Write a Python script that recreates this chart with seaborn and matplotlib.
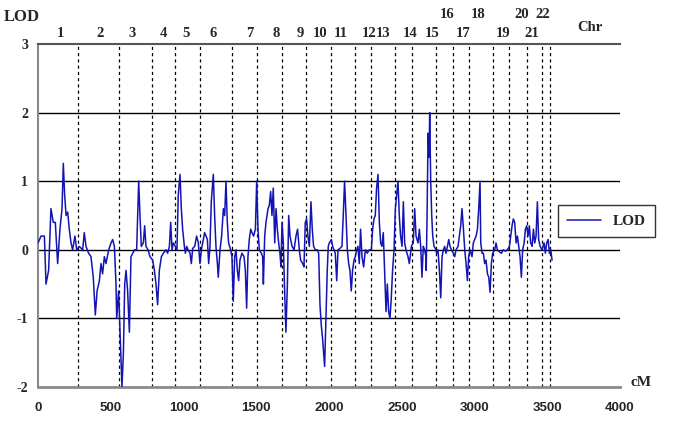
import matplotlib
matplotlib.use('Agg')
import matplotlib.pyplot as plt
import matplotlib.transforms as mtransforms
import seaborn as sns
import pandas as pd

# chromosome ends (cM), drawn as dotted separators
chr_ends = [275, 557, 784, 942, 1113, 1333, 1505, 1677, 1842, 2014, 2179,
            2289, 2454, 2570, 2735, 2852, 2962, 3127, 3237, 3361, 3464, 3519]
chr_labels = [str(i) for i in range(1, 23)]
chr_label_x = [151, 426, 646, 859, 1017, 1203, 1457, 1636, 1801, 1938, 2082,
               2275, 2371, 2557, 2708, 2811, 2921, 3024, 3196, 3326, 3395, 3471]
chr_upper = ['16', '18', '20', '22']

x_ticks = [0, 500, 1000, 1500, 2000, 2500, 3000, 3500, 4000]
y_ticks = [-2, -1, 0, 1, 2, 3]

# genome scan in four stretches
pos_a = [0, 21, 44, 55, 73, 89, 105, 119, 135, 151, 165, 174, 183, 193, 204, 215, 227,
         238, 254, 266, 284, 307, 318, 330, 348, 364, 380, 394, 406, 422, 433, 444, 456,
         467, 486, 502, 513, 525, 536, 541, 554, 564, 577, 587, 596, 605, 616, 628, 639,
         651, 664, 678, 692, 701, 710, 724, 733, 742, 756, 770, 788, 800, 811, 822, 834,
         848, 861, 880]
lod_a = [0.1, 0.2, 0.2, -0.5, -0.3, 0.6, 0.4, 0.4, -0.2, 0.3, 0.6, 1.26, 0.8, 0.5, 0.55,
         0.3, 0.1, 0.0, 0.2, 0.0, 0.05, 0.0, 0.25, 0.05, -0.05, -0.1, -0.4, -0.95, -0.6,
         -0.45, -0.2, -0.35, -0.1, -0.2, 0.0, 0.1, 0.15, 0.05, -0.5, -1.0, -0.6, -1.2,
         -2.0, -1.5, -0.5, -0.3, -0.6, -1.2, -0.1, -0.05, 0.0, 0.0, 1.0, 0.5, 0.05, 0.1,
         0.35, 0.05, 0.0, -0.1, -0.15, -0.3, -0.5, -0.8, -0.3, -0.1, -0.05, 0.0]

pos_b = [891, 903, 912, 921, 930, 944, 955, 964, 976, 985, 994, 1006, 1013, 1022, 1031,
         1045, 1054, 1063, 1077, 1090, 1102, 1113, 1123, 1132, 1145, 1155, 1164, 1173,
         1182, 1191, 1205, 1214, 1223, 1233, 1239, 1251, 1262, 1274, 1283, 1292, 1301,
         1310, 1324, 1333, 1342, 1352, 1361, 1370, 1379, 1388, 1402, 1416, 1425, 1434,
         1443, 1452, 1462, 1471, 1482, 1494, 1503, 1512, 1521, 1535, 1544, 1549, 1558,
         1567, 1581, 1590, 1599, 1608, 1617, 1627, 1636, 1645, 1654, 1663, 1670, 1677,
         1686, 1695, 1704, 1714, 1723, 1732, 1746, 1760, 1773]
lod_b = [-0.05, 0.05, 0.4, 0.0, 0.1, 0.05, 0.0, 0.8, 1.1, 0.6, 0.3, 0.05, -0.05, 0.05,
         0.0, -0.05, -0.2, 0.02, 0.05, 0.2, 0.1, -0.2, 0.0, 0.1, 0.25, 0.2, 0.15, -0.2,
         0.05, 0.7, 1.1, 0.5, 0.05, -0.2, -0.4, 0.0, 0.2, 0.6, 0.5, 1.0, 0.4, 0.1, 0.0,
         -0.1, -0.75, -0.1, 0.0, -0.3, -0.45, -0.15, -0.05, -0.1, -0.3, -0.85, -0.1, 0.15,
         0.3, 0.25, 0.2, 0.3, 1.0, 0.3, 0.0, -0.05, -0.1, -0.5, 0.2, 0.4, 0.6, 0.65, 0.85,
         0.5, 0.9, 0.1, 0.6, 0.3, 0.1, -0.05, -0.25, 0.4, 0.1, -0.6, -1.2, -0.5, 0.5, 0.2,
         0.05, 0.0, 0.2]

pos_c = [1784, 1796, 1805, 1819, 1828, 1837, 1846, 1855, 1865, 1876, 1885, 1894, 1906,
         1920, 1929, 1938, 1947, 1956, 1970, 1979, 1988, 1995, 2002, 2016, 2025, 2034,
         2043, 2053, 2062, 2075, 2089, 2098, 2107, 2117, 2126, 2135, 2144, 2153, 2162,
         2172, 2181, 2190, 2199, 2208, 2217, 2227, 2238, 2250, 2263, 2277, 2291, 2300,
         2309, 2318, 2327, 2337, 2346, 2355, 2364, 2373, 2382, 2392, 2401, 2410, 2419,
         2428, 2437, 2447, 2456, 2465, 2474, 2483, 2492, 2502, 2511, 2520, 2529, 2543,
         2552, 2566, 2579, 2589, 2598, 2612, 2621, 2630, 2639, 2648, 2657, 2666]
lod_c = [0.3, 0.0, -0.15, -0.2, -0.25, 0.4, 0.45, 0.2, 0.05, 0.7, 0.3, 0.05, 0.0, 0.0,
         -0.05, -0.8, -1.1, -1.3, -1.7, -1.0, -0.3, 0.05, 0.1, 0.15, 0.05, 0.0, -0.05,
         -0.45, 0.0, 0.02, 0.05, 0.5, 1.0, 0.5, 0.0, -0.2, -0.3, -0.6, -0.3, -0.15, -0.1,
         0.0, 0.05, -0.2, 0.3, -0.1, -0.25, 0.0, -0.05, 0.0, 0.0, 0.3, 0.45, 0.5, 0.9, 1.1,
         0.4, 0.1, 0.05, 0.25, -0.3, -0.9, -0.5, -0.9, -1.0, -0.7, -0.3, 0.0, 0.6, 0.8,
         1.0, 0.5, 0.2, 0.05, 0.7, 0.1, 0.0, -0.1, -0.2, 0.05, 0.1, 0.6, 0.2, 0.1, 0.3,
         0.05, -0.4, 0.05, 0.0, -0.1]

pos_d = [2668, 2674, 2681, 2688, 2692, 2699, 2706, 2713, 2722, 2731, 2740, 2749, 2759,
         2768, 2777, 2786, 2795, 2804, 2814, 2823, 2832, 2841, 2855, 2864, 2873, 2887,
         2896, 2905, 2914, 2924, 2933, 2942, 2951, 2960, 2969, 2983, 2992, 3001, 3011,
         3020, 3029, 3038, 3043, 3052, 3061, 3070, 3079, 3089, 3098, 3107, 3116, 3125,
         3139, 3148, 3157, 3171, 3185, 3198, 3212, 3226, 3240, 3249, 3258, 3267, 3276,
         3286, 3295, 3304, 3313, 3322, 3331, 3341, 3350, 3359, 3368, 3377, 3386, 3396,
         3405, 3414, 3423, 3432, 3441, 3451, 3464, 3478, 3487, 3496, 3506, 3515, 3524,
         3533]
lod_d = [-0.3, 0.5, 1.7, 1.35, 2.0, 1.0, 0.5, 0.2, 0.05, 0.02, -0.05, 0.0, -0.3, -0.7,
         -0.1, 0.0, 0.05, -0.05, 0.05, 0.15, 0.05, 0.0, -0.05, -0.1, 0.0, 0.05, 0.2, 0.35,
         0.6, 0.3, 0.0, -0.2, -0.45, -0.1, 0.0, -0.1, 0.1, 0.15, 0.2, 0.3, 0.6, 1.0, 0.1,
         -0.05, -0.05, -0.2, -0.15, -0.35, -0.4, -0.62, -0.2, -0.05, 0.0, 0.1, 0.0, -0.03,
         -0.05, 0.0, -0.02, 0.0, 0.05, 0.2, 0.35, 0.45, 0.4, 0.1, 0.2, 0.05, -0.1, -0.4,
         0.0, 0.1, 0.3, 0.35, 0.2, 0.35, 0.1, 0.05, 0.3, 0.1, 0.2, 0.7, 0.15, 0.05, 0.0,
         0.1, -0.05, 0.1, 0.15, -0.05, 0.0, -0.15]

df = pd.DataFrame({'cM': pos_a + pos_b + pos_c + pos_d,
                   'LOD': lod_a + lod_b + lod_c + lod_d})

sns.set_style('white')
plt.rcParams['font.family'] = ['Liberation Serif', 'DejaVu Serif']
plt.rcParams['axes.unicode_minus'] = False

W, H = 685, 430
fig = plt.figure(figsize=(W / 100, H / 100), dpi=100)
ax = fig.add_axes([38 / W, 1 - 387 / H, (620 - 38) / W, (387 - 44) / H])

# horizontal rules and chromosome separators
for y in [-1, 0, 1, 2]:
    ax.axhline(y, color='black', lw=1, zorder=1)
for x in chr_ends:
    ax.axvline(x, color='black', lw=0.9, ls=(0, (2.5, 2.5)), zorder=1)

sns.lineplot(data=df, x='cM', y='LOD', ax=ax, color='#1414b4', lw=1.1,
             label='LOD', sort=False, zorder=3)

ax.set_xlim(0, 4000)
ax.set_ylim(-2, 3)
ax.set_xticks(x_ticks)
ax.set_yticks(y_ticks)
ax.set_xlabel('')
ax.set_ylabel('')
ax.tick_params(length=0)
ax.tick_params(axis='x', pad=11)
ax.tick_params(axis='y', pad=7)
for lab in ax.get_xticklabels():
    lab.set_family('Liberation Sans')
    lab.set_fontweight('bold')
    lab.set_fontsize(9.5)
for lab in ax.get_yticklabels():
    lab.set_fontweight('bold')
    lab.set_fontsize(10)

ax.spines['right'].set_visible(False)
ax.spines['top'].set_color('#555555')
ax.spines['top'].set_linewidth(1.5)
ax.spines['left'].set_color('#8a8a8a')
ax.spines['left'].set_linewidth(1.5)
ax.spines['bottom'].set_color('#8a8a8a')
ax.spines['bottom'].set_linewidth(2)

# chromosome labels above the plot
trans = mtransforms.blended_transform_factory(ax.transData, ax.transAxes)
for lab, x in zip(chr_labels, chr_label_x):
    yy = 1.085 if lab in chr_upper else 1.032
    ax.text(x, yy, lab, transform=trans, ha='center', va='center',
            fontsize=10.5, fontweight='bold', clip_on=False)
ax.text(3794, 1.047, 'Chr', transform=trans, ha='center', va='center',
        fontsize=10.5, fontweight='bold', clip_on=False)

fig.text(22 / W, 1 - 17 / H, 'LOD', ha='center', va='center',
         fontsize=12, fontweight='bold')
fig.text(641 / W, 1 - 383 / H, 'cM', ha='center', va='center',
         fontsize=11, fontweight='bold')

leg = ax.legend(loc='center left', bbox_to_anchor=((558 - 38) / 582, (387 - 221) / 343),
                borderaxespad=0, frameon=True, fancybox=False, edgecolor='black',
                handlelength=2.2, borderpad=0.6, prop={'weight': 'bold', 'size': 11})
leg.get_frame().set_linewidth(1)
leg.get_frame().set_facecolor('white')
leg.set_zorder(5)

fig.savefig('out.png', dpi=100)
